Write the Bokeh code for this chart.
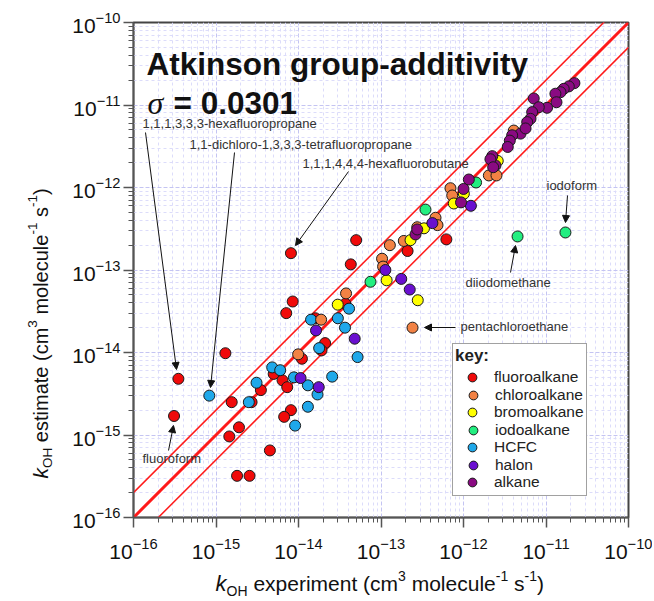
import math
from bokeh.plotting import figure
from bokeh.layouts import row, column
from bokeh.models import (Range1d, FixedTicker, LogTickFormatter, Label, Arrow,
                          NormalHead, Legend, LegendItem)
from bokeh.embed import file_html
from bokeh.resources import INLINE

# ---------------- data ----------------
exponents = [-16, -15, -14, -13, -12, -11, -10]

fluoro_x = [3.5e-16, 3.1e-16, 1.3e-15, 1.55e-15, 1.9e-15, 1.45e-15, 1.8e-15, 2.55e-15, 4.5e-15,
            2.7e-15, 3.5e-15, 5.0e-15, 6.4e-15, 7.3e-15, 8.1e-15, 6.7e-15, 8.1e-15, 8.5e-15,
            7.1e-15, 4.3e-14, 5.0e-14, 6.2e-13, 2.1e-13, 1.1e-14, 2.1e-14, 1.9e-14, 1.6e-14, 3.7e-14]
fluoro_y = [4.8e-15, 1.7e-15, 9.8e-15, 2.5e-15, 1.24e-15, 9.6e-16, 3.2e-16, 3.2e-16, 6.5e-16,
            2.5e-15, 3.5e-15, 5.5e-15, 4.6e-15, 3.8e-15, 2.0e-15, 1.66e-15, 1.6e-13, 4.15e-14,
            3.0e-14, 1.17e-13, 2.3e-13, 2.35e-13, 1.7e-13, 8.4e-15, 1.3e-14, 1.06e-14, 2.6e-14, 3.9e-14]

hcfc_x = [8.3e-16, 3.1e-15, 2.5e-15, 4.8e-15, 6.0e-15, 8.8e-15, 1.3e-14, 1.7e-14, 1.3e-14,
          9.1e-15, 2.56e-14, 1.78e-14, 1.42e-14, 3.0e-14, 4.1e-14, 3.66e-14, 5.2e-14]
hcfc_y = [3.0e-15, 4.3e-15, 2.5e-15, 6.6e-15, 6.1e-15, 5.0e-15, 4.0e-15, 3.1e-15, 2.2e-15,
          1.3e-15, 5.1e-15, 1.13e-14, 2.5e-14, 2.6e-14, 3.4e-14, 2.0e-14, 8.8e-15]

chloro_x = [2.41e-13, 9.9e-15, 1.88e-14, 3.77e-14, 1.28e-13, 1.03e-13, 1.06e-13, 1.89e-13,
            2.75e-13, 4.58e-13, 4.84e-13, 6.95e-13, 7.3e-13, 2.03e-12, 2.51e-12, 4.07e-12]
chloro_y = [2.0e-14, 9.5e-15, 2.5e-14, 5.2e-14, 2.0e-13, 1.37e-13, 1.1e-13, 2.25e-13,
            3.3e-13, 4.3e-13, 3.5e-13, 9.8e-13, 8.0e-13, 1.4e-12, 1.4e-12, 4.9e-12]

bromo_x = [2.99e-14, 1.17e-13, 2.79e-13, 2.28e-13, 3.32e-13, 7.63e-13, 1.01e-12, 2.6e-12]
bromo_y = [3.8e-14, 7.5e-14, 4.3e-14, 2.3e-13, 3.2e-13, 6.4e-13, 8.4e-13, 2.1e-12]

iodo_x = [1.72e-11, 4.52e-12, 7.46e-14, 3.46e-13, 1.42e-12]
iodo_y = [2.85e-13, 2.55e-13, 7.2e-14, 5.4e-13, 1.15e-12]

halon_x = [1.63e-14, 1.06e-14, 1.76e-14, 4.8e-14, 1.13e-13, 1.76e-13, 2.23e-13, 4.2e-13, 1.23e-12]
halon_y = [1.85e-14, 4.9e-15, 3.8e-15, 1.47e-14, 1.0e-13, 7.8e-14, 5.8e-14, 3.7e-13, 6.0e-13]

alkane_x = [2.21e-11, 1.89e-11, 1.64e-11, 1.5e-11, 1.3e-11, 1.34e-11, 1.03e-11, 7.1e-12, 8.18e-12,
            6.8e-12, 6.49e-12, 5.92e-12, 4.91e-12, 5.65e-12, 3.89e-12, 3.64e-12, 3.44e-12,
            2.23e-12, 2.44e-12, 2.12e-12, 2.29e-12, 1.16e-12, 1.0e-12, 9.33e-13, 2.62e-13, 2.75e-13]
alkane_y = [1.84e-11, 1.68e-11, 1.57e-11, 1.43e-11, 1.37e-11, 1.08e-11, 9.25e-12, 1.2e-11, 9.4e-12,
            8.2e-12, 6.8e-12, 6.2e-12, 4.5e-12, 5.2e-12, 4.3e-12, 3.7e-12, 3.1e-12,
            2.4e-12, 1.85e-12, 2.2e-12, 1.76e-12, 1.25e-12, 9.6e-13, 6.6e-13, 2.7e-13, 3.1e-13]

band_factor = 2.0

# ---------------- main figure ----------------
lo, hi = 10.0 ** exponents[0], 10.0 ** exponents[-1]
p = figure(x_axis_type="log", y_axis_type="log",
           x_range=Range1d(lo, hi), y_range=Range1d(lo, hi),
           frame_width=495, frame_height=495,
           min_border_left=73, min_border_right=24, min_border_top=22, min_border_bottom=50,
           output_backend="svg", toolbar_location=None,
           background_fill_color="white", border_fill_color="white")
p.outline_line_color = "#444444"
p.outline_line_width = 2

decades = [10.0 ** e for e in exponents]
minors = [m * 10.0 ** e for e in exponents[:-1] for m in range(2, 10)]
ticker = FixedTicker(ticks=decades, minor_ticks=minors)

for ax in (p.xaxis[0], p.yaxis[0]):
    ax.ticker = ticker
    ax.formatter = LogTickFormatter()
    ax.axis_line_color = "#555555"
    ax.axis_line_width = 1.5
    ax.major_tick_line_color = "#555555"
    ax.major_tick_line_width = 1.5
    ax.major_tick_out = 10
    ax.major_tick_in = 0
    ax.minor_tick_line_color = "#555555"
    ax.minor_tick_out = 5
    ax.minor_tick_in = 0
    ax.major_label_text_font = "Liberation Sans"
    ax.major_label_text_font_size = "21px"
    ax.major_label_text_color = "#111111"
p.xaxis.major_label_standoff = 10
p.yaxis.major_label_standoff = 3

for g in (p.xgrid[0], p.ygrid[0]):
    g.grid_line_color = "#c4c4f2"
    g.grid_line_dash = "4 2"
    g.grid_line_width = 1
    g.minor_grid_line_color = "#dcdcfa"
    g.minor_grid_line_dash = "3 3"
    g.minor_grid_line_width = 1

# reference lines (1:1 and factor-of-two band)
line_x = [lo, hi]
p.line(line_x, line_x, line_color="#ff1a1a", line_width=3)
p.line(line_x, [v * band_factor for v in line_x], line_color="#ff1a1a", line_width=1.5)
p.line(line_x, [v / band_factor for v in line_x], line_color="#ff1a1a", line_width=1.5)

# points
series = {
    "fluoroalkane": (fluoro_x, fluoro_y, "#f00a0a"),
    "HCFC": (hcfc_x, hcfc_y, "#1fa8ea"),
    "chloroalkane": (chloro_x, chloro_y, "#f28244"),
    "bromoalkane": (bromo_x, bromo_y, "#ffff00"),
    "iodoalkane": (iodo_x, iodo_y, "#22ee80"),
    "halon": (halon_x, halon_y, "#6a0fd0"),
    "alkane": (alkane_x, alkane_y, "#8a0a82"),
}
renderers = {}
for name, (xs, ys, col) in series.items():
    renderers[name] = p.scatter(xs, ys, marker="circle", size=11, fill_color=col,
                                line_color="#1a1a1a", line_width=1)

# legend: rows interleaved from two legends so that the rows sit 17.5 px apart
legend_order = ["fluoroalkane", "chloroalkane", "bromoalkane", "iodoalkane", "HCFC", "halon", "alkane"]


def style_legend(lg):
    lg.label_text_font = "Liberation Sans"
    lg.label_text_font_size = "15.5px"
    lg.label_text_color = "#222222"
    lg.glyph_width = 34
    lg.glyph_height = 22
    lg.label_height = 22
    lg.spacing = 13
    lg.padding = 2
    lg.margin = 0
    lg.label_standoff = 5


legend_a = Legend(items=[LegendItem(label=n, renderers=[renderers[n]]) for n in legend_order[0::2]],
                  title="key:", location=(319, 21))
style_legend(legend_a)
legend_a.title_text_font = "Liberation Sans"
legend_a.title_text_font_size = "17px"
legend_a.title_text_font_style = "bold"
legend_a.title_text_color = "#222222"
legend_a.title_standoff = 0
legend_a.border_line_color = "#444444"
legend_a.border_line_width = 1.5
legend_a.background_fill_color = "white"
legend_a.background_fill_alpha = 1.0
p.add_layout(legend_a)

legend_b = Legend(items=[LegendItem(label=n, renderers=[renderers[n]]) for n in legend_order[1::2]],
                  location=(323, 41.5))
style_legend(legend_b)
legend_b.border_line_color = None
legend_b.background_fill_alpha = 0.0
p.add_layout(legend_b)


def add_text(fig, text, x, y, size, style="normal", font="Liberation Sans", angle=0.0,
             color="#111111", baseline="middle", align="left"):
    fig.add_layout(Label(x=x, y=y, x_units="screen", y_units="screen", text=text,
                         text_font=font, text_font_size=size, text_font_style=style,
                         text_color=color, angle=angle, text_baseline=baseline,
                         text_align=align))


# title block
add_text(p, "Atkinson group-additivity", 13, 454, "31.5px", style="bold", baseline="alphabetic")
add_text(p, "\u03c3", 14, 415, "32px", style="italic", font="Liberation Serif", baseline="alphabetic")
add_text(p, "= 0.0301", 40, 415, "31.5px", style="bold", baseline="alphabetic")

# compound annotations
notes = [
    ("1,1,1,3,3,3-hexafluoropropane", 9, 394),
    ("1,1-dichloro-1,3,3,3-tetrafluoropropane", 56, 373),
    ("1,1,1,4,4,4-hexafluorobutane", 169, 354),
    ("iodoform", 413, 332),
    ("diiodomethane", 332, 235),
    ("pentachloroethane", 327, 191),
    ("fluoroform", 9, 59),
]
for t, x, y in notes:
    add_text(p, t, x, y, "13px", color="#333333")

arrows = [
    (12, 385, 43, 148),
    (101, 365, 77, 130),
    (215, 346, 162, 272),
    (434, 322, 432, 295),
    (377, 245, 382, 272),
    (322, 190, 291, 190),
    (35, 67, 40, 92),
]
for xs_, ys_, xe_, ye_ in arrows:
    p.add_layout(Arrow(end=NormalHead(size=7, fill_color="#111111", line_color="#111111", line_width=1),
                       x_start=xs_, y_start=ys_, x_end=xe_, y_end=ye_,
                       start_units="screen", end_units="screen",
                       line_color="#111111", line_width=1))


# ---------------- axis-title strips ----------------
def strip(w, h):
    f = figure(width=w, height=h, x_range=Range1d(0, 1), y_range=Range1d(0, 1),
               x_axis_location=None, y_axis_location=None, min_border=0,
               output_backend="svg", toolbar_location=None,
               background_fill_color="white", border_fill_color="white")
    f.outline_line_color = None
    f.grid.visible = False
    return f


def axis_title(fig, word, start, base, horizontal, size, sup_size):
    """k_OH <word> (cm^3 molecule^-1 s^-1) written piece by piece along the axis."""
    fs = float(size)
    ss = float(sup_size)
    ang = 0.0 if horizontal else math.pi / 2
    word_w = {"experiment (cm": 6.89, "estimate (cm": 5.723}[word]
    # pieces: (text, font size, style, shift across baseline, advance along baseline)
    pieces = [
        ("k", fs + 1, "italic", 0, 0.5 * (fs + 1)),
        ("OH", ss, "normal", -7, 1.5 * ss + 0.28 * fs),
        (word, fs, "normal", 0, word_w * fs),
        ("3", ss, "normal", 8, 0.556 * ss + 0.278 * fs),
        ("molecule", fs, "normal", 0, 4.001 * fs),
        ("-1", ss, "normal", 8, 0.889 * ss + 0.278 * fs),
        ("s", fs, "normal", 0, 0.5 * fs),
        ("-1", ss, "normal", 8, 0.889 * ss),
        (")", fs, "normal", 0, 0.333 * fs),
    ]
    pos = start
    for text, sz, st, shift, adv in pieces:
        if horizontal:
            add_text(fig, text, pos, base + shift, "%gpx" % sz, style=st)
        else:
            add_text(fig, text, base - shift, pos, "%gpx" % sz, style=st, angle=ang)
        pos += adv


ylab = strip(60, 567)
axis_title(ylab, "estimate (cm", 89, 40, False, 20, 13.5)

# this strip's frame is aligned with the main frame (starts at the main y axis)
xlab = strip(592, 33)
axis_title(xlab, "experiment (cm", 82, 17, True, 21, 14)

layout = row(ylab, column(p, xlab))
open("out.html", "w").write(file_html(layout, INLINE))
